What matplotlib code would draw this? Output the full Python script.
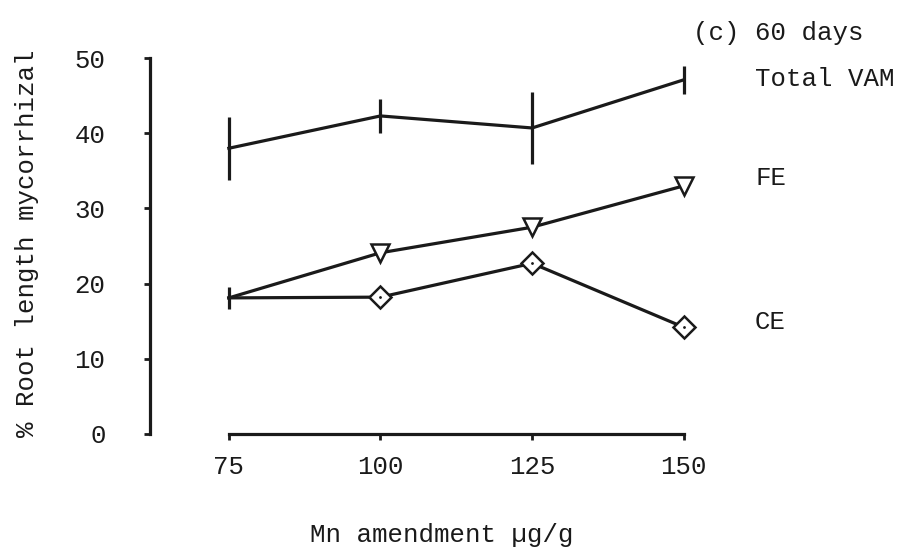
import matplotlib
matplotlib.use('Agg')
import matplotlib.pyplot as plt

plt.rcParams['font.family'] = ['Liberation Mono', 'DejaVu Sans Mono']

# Mn amendment levels (ug/g)
mn = [75, 100, 125, 150]

# % root length mycorrhizal at 60 days
total_vam = [38.0, 42.3, 40.7, 47.1]
total_vam_err = [4.2, 2.3, 4.8, 1.9]
fe = [18.1, 24.1, 27.5, 33.0]
ce = [18.1, 18.2, 22.7, 14.2]
start_err = 1.5

yticks = [0, 10, 20, 30, 40, 50]

W, H = 905, 549
fig = plt.figure(figsize=(W / 100, H / 100), dpi=100)
ax = fig.add_axes([150 / W, 1 - 441.5 / H, 564 / W, (441.5 - 43) / H])
ax.set_xlim(62, 155)
ax.set_ylim(-1, 52)

ink = '#1a1a1a'
lw = 2.3
fs = 18.5

# total VAM with vertical error bars
ax.errorbar(mn, total_vam, yerr=total_vam_err, color=ink, lw=lw,
            elinewidth=lw, capsize=0)

# FE and CE share the starting point at 75
ax.plot(mn, fe, color=ink, lw=lw)
ax.plot(mn, ce, color=ink, lw=lw)
ax.errorbar(mn[:1], fe[:1], yerr=start_err, color=ink, elinewidth=lw,
            capsize=0, fmt='none')
ax.plot(mn[1:], fe[1:], 'v', ms=13, mfc='white', mec=ink, mew=1.8,
        clip_on=False)
ax.plot(mn[1:], ce[1:], 'D', ms=11, mfc='white', mec=ink, mew=1.8,
        clip_on=False)
ax.plot(mn[1:], ce[1:], '.', ms=2, color=ink)

for s in ['top', 'right']:
    ax.spines[s].set_visible(False)
ax.spines['left'].set_bounds(0, 50)
ax.spines['bottom'].set_position(('data', 0))
ax.spines['bottom'].set_bounds(75, 150)
for s in ['left', 'bottom']:
    ax.spines[s].set_linewidth(2.3)
    ax.spines[s].set_color(ink)

ax.set_yticks(yticks)
ax.set_xticks(mn)
ax.tick_params(axis='y', length=4, width=2, color=ink, pad=28,
               labelsize=fs, labelcolor=ink)
ax.tick_params(axis='x', length=4, width=2, color=ink, pad=11,
               labelsize=fs, labelcolor=ink)

fig.text(693 / W, 1 - 33 / H, '(c) 60 days', fontsize=fs, color=ink,
         va='center', ha='left')
fig.text(755 / W, 1 - 79 / H, 'Total VAM', fontsize=fs, color=ink,
         va='center', ha='left')
fig.text(755 / W, 1 - 178 / H, 'FE', fontsize=fs, color=ink,
         va='center', ha='left')
fig.text(755 / W, 1 - 322 / H, 'CE', fontsize=fs, color=ink,
         va='center', ha='left')
fig.text(27 / W, 1 - 243 / H, '% Root length mycorrhizal', fontsize=fs,
         color=ink, rotation=90, va='center', ha='center')
fig.text(442 / W, 1 - 535 / H, 'Mn amendment \u00b5g/g', fontsize=fs,
         color=ink, va='center', ha='center')

fig.savefig('out.png', dpi=100, facecolor='white')
